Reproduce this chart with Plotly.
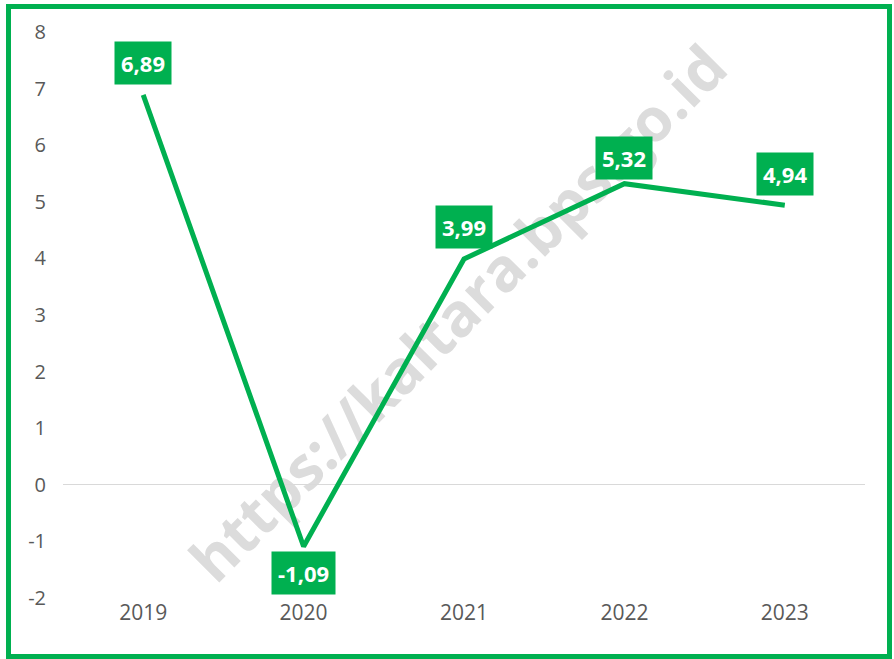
import plotly.graph_objects as go

years = ["2019", "2020", "2021", "2022", "2023"]
values = [6.89, -1.09, 3.99, 5.32, 4.94]
labels = ["6,89", "-1,09", "3,99", "5,32", "4,94"]
label_shift = [32, -27, 32, 26, 31]
y_ticks = [-2, -1, 0, 1, 2, 3, 4, 5, 6, 7, 8]
y_tick_text = ["-2", "-1", "0", "1", "2", "3", "4", "5", "6", "7", "8"]

GREEN = "#00B050"
FONT = "Open Sans"

fig = go.Figure()
fig.add_trace(go.Scatter(
    x=years, y=values, mode="lines",
    line=dict(color=GREEN, width=5),
    hoverinfo="skip", showlegend=False,
))

annotations = []
for i, (v, t, s) in enumerate(zip(values, labels, label_shift)):
    annotations.append(dict(
        x=i, y=v, xref="x", yref="y", text="<b>%s</b>" % t, showarrow=False, yshift=s,
        font=dict(family=FONT, size=22, color="white"),
        bgcolor=GREEN, borderpad=6,
    ))

W, H = 894, 659
L, R, T, B = 63, 29, 32, 61
pw, ph = W - L - R, H - T - B

def px(xp):
    return (xp - L) / pw

def py(yp):
    return (H - B - yp) / ph

shapes = [
    # watermark (below traces)
    dict(type="rect", xref="paper", yref="paper",
         x0=px(310), y0=py(420), x1=px(610), y1=py(210),
         line=dict(color="rgba(0,0,0,0)", width=0), fillcolor="rgba(0,0,0,0)",
         layer="below",
         label=dict(text="<b>https://kaltara.bps.go.id</b>", textangle=-45,
                    textposition="middle center",
                    font=dict(family=FONT, size=60, color="#DCDCDC"))),
    # outer border
    dict(type="rect", xref="paper", yref="paper",
         x0=px(8.5), x1=px(889.5), y0=py(656.5), y1=py(6.5),
         line=dict(color=GREEN, width=5), fillcolor="rgba(0,0,0,0)", layer="above"),
]

fig.update_layout(
    width=W, height=H,
    margin=dict(l=L, r=R, t=T, b=B),
    paper_bgcolor="white", plot_bgcolor="white",
    font=dict(family=FONT, color="#595959"),
    shapes=shapes,
    annotations=annotations,
    xaxis=dict(type="category", range=[-0.5, 4.5], showgrid=False, zeroline=False,
               showline=False, ticks="", tickfont=dict(size=21, color="#595959")),
    yaxis=dict(range=[-2, 8], tickvals=y_ticks, ticktext=y_tick_text, showgrid=False,
               zeroline=True, zerolinecolor="#D9D9D9", zerolinewidth=1, showline=False,
               ticks="", tickfont=dict(size=20, color="#595959"), ticklabelstandoff=16),
)

fig.write_html("out.html", config={"displayModeBar": False},
               post_script="document.body.style.margin='0';")
